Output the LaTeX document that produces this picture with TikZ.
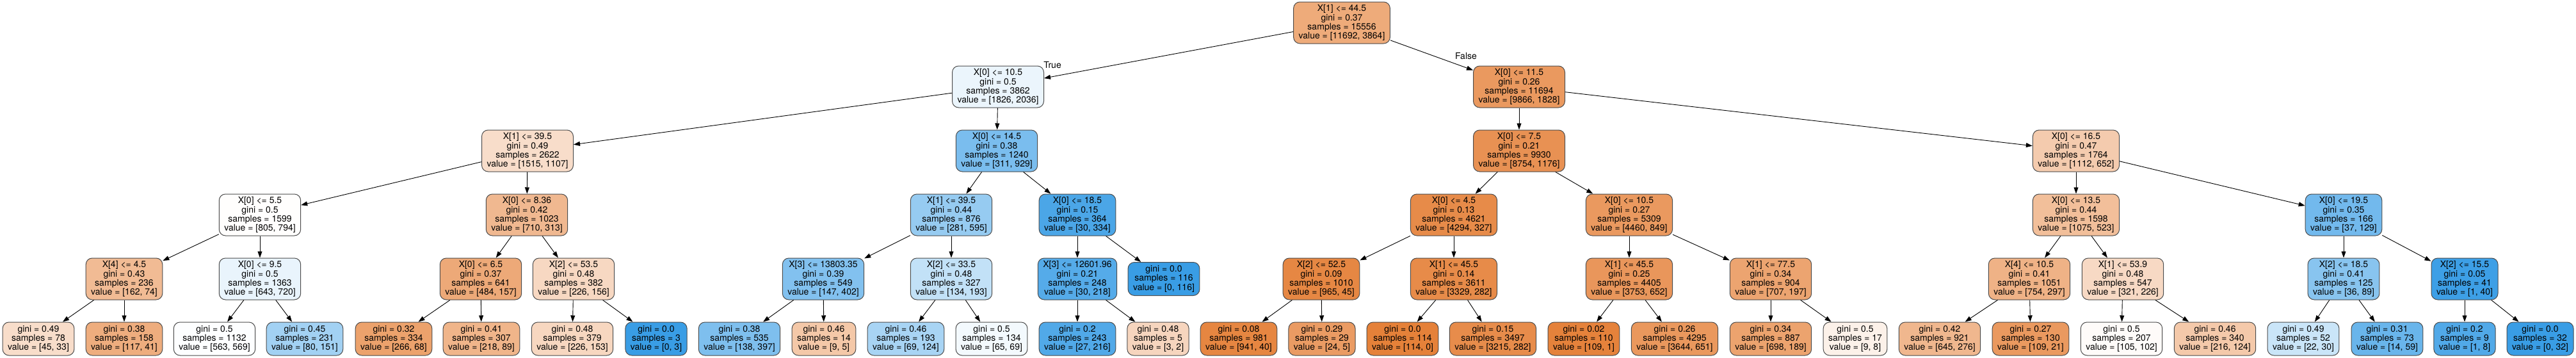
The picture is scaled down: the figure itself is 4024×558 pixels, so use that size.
\documentclass[tikz,border=0pt]{standalone}
\usepackage{fontspec}
\setmainfont{TeX Gyre Heros}
\usetikzlibrary{arrows.meta}
\definecolor{cls0}{RGB}{229,129,57}
\definecolor{cls1}{RGB}{57,157,229}
\newcommand{\snode}[4]{\node(#1)[split,fill=#3] at (#2) {#4}}
\newcommand{\lnode}[4]{\node(#1)[leaf,fill=#3] at (#2) {#4}}

\begin{document}
\begin{tikzpicture}[
        x=1pt,y=-1pt,
        every node/.style={font=\fontsize{14}{14.1}\selectfont},
        box/.style={rectangle,rounded corners=10pt,draw=black!70,line width=1pt,
                    align=center,inner xsep=8pt,inner ysep=0pt},
        split/.style={box,minimum height=65pt},
        leaf/.style={box,minimum height=52pt},
        edge/.style={-{Triangle[length=10pt,width=7pt]},line width=0.9pt}
      ]
      \useasboundingbox (0,0) rectangle (4024,558);
      % depth 0 and 1
      \snode{n}{2096,35.5}{cls0!67}{X[1] <= 44.5\\gini = 0.37\\samples = 15556\\value = [11692, 3864]};
      \snode{nl}{1559,135.5}{cls1!10}{X[0] <= 10.5\\gini = 0.5\\samples = 3862\\value = [1826, 2036]};
      \snode{nr}{2373,135.5}{cls0!81}{X[0] <= 11.5\\gini = 0.26\\samples = 11694\\value = [9866, 1828]};
      % depth 2
      \snode{nll}{824,235.5}{cls0!27}{X[1] <= 39.5\\gini = 0.49\\samples = 2622\\value = [1515, 1107]};
      \snode{nlr}{1557,235.5}{cls1!67}{X[0] <= 14.5\\gini = 0.38\\samples = 1240\\value = [311, 929]};
      \snode{nrl}{2373,235.5}{cls0!87}{X[0] <= 7.5\\gini = 0.21\\samples = 9930\\value = [8754, 1176]};
      \snode{nrr}{3243,235.5}{cls0!41}{X[0] <= 16.5\\gini = 0.47\\samples = 1764\\value = [1112, 652]};
      % depth 3
      \snode{nlll}{406,335.5}{cls0!1}{X[0] <= 5.5\\gini = 0.5\\samples = 1599\\value = [805, 794]};
      \snode{nllr}{823,335.5}{cls0!56}{X[0] <= 8.36\\gini = 0.42\\samples = 1023\\value = [710, 313]};
      \snode{nlrl}{1486,335.5}{cls1!53}{X[1] <= 39.5\\gini = 0.44\\samples = 876\\value = [281, 595]};
      \snode{nlrr}{1683,335.5}{cls1!91}{X[0] <= 18.5\\gini = 0.15\\samples = 364\\value = [30, 334]};
      \snode{nrll}{2271,335.5}{cls0!92}{X[0] <= 4.5\\gini = 0.13\\samples = 4621\\value = [4294, 327]};
      \snode{nrlr}{2545,335.5}{cls0!81}{X[0] <= 10.5\\gini = 0.27\\samples = 5309\\value = [4460, 849]};
      \snode{nrrl}{3243,335.5}{cls0!51}{X[0] <= 13.5\\gini = 0.44\\samples = 1598\\value = [1075, 523]};
      \snode{nrrr}{3661,335.5}{cls1!71}{X[0] <= 19.5\\gini = 0.35\\samples = 166\\value = [37, 129]};
      % depth 4
      \snode{nllll}{194,435.5}{cls0!54}{X[4] <= 4.5\\gini = 0.43\\samples = 236\\value = [162, 74]};
      \snode{nlllr}{406,435.5}{cls1!11}{X[0] <= 9.5\\gini = 0.5\\samples = 1363\\value = [643, 720]};
      \snode{nllrl}{751,435.5}{cls0!68}{X[0] <= 6.5\\gini = 0.37\\samples = 641\\value = [484, 157]};
      \snode{nllrr}{896,435.5}{cls0!31}{X[2] <= 53.5\\gini = 0.48\\samples = 382\\value = [226, 156]};
      \snode{nlrll}{1286,435.5}{cls1!63}{X[3] <= 13803.35\\gini = 0.39\\samples = 549\\value = [147, 402]};
      \snode{nlrlr}{1486,435.5}{cls1!31}{X[2] <= 33.5\\gini = 0.48\\samples = 327\\value = [134, 193]};
      \snode{nlrrl}{1683,435.5}{cls1!86}{X[3] <= 12601.96\\gini = 0.21\\samples = 248\\value = [30, 218]};
      \lnode{nlrrr}{1818,435.5}{cls1}{gini = 0.0\\samples = 116\\value = [0, 116]};
      \snode{nrlll}{2064,435.5}{cls0!95}{X[2] <= 52.5\\gini = 0.09\\samples = 1010\\value = [965, 45]};
      \snode{nrllr}{2271,435.5}{cls0!92}{X[1] <= 45.5\\gini = 0.14\\samples = 3611\\value = [3329, 282]};
      \snode{nrlrl}{2545,435.5}{cls0!83}{X[1] <= 45.5\\gini = 0.25\\samples = 4405\\value = [3753, 652]};
      \snode{nrlrr}{2766,435.5}{cls0!72}{X[1] <= 77.5\\gini = 0.34\\samples = 904\\value = [707, 197]};
      \snode{nrrll}{3170,435.5}{cls0!61}{X[4] <= 10.5\\gini = 0.41\\samples = 1051\\value = [754, 297]};
      \snode{nrrlr}{3316,435.5}{cls0!30}{X[1] <= 53.9\\gini = 0.48\\samples = 547\\value = [321, 226]};
      \snode{nrrrl}{3661,435.5}{cls1!60}{X[2] <= 18.5\\gini = 0.41\\samples = 125\\value = [36, 89]};
      \snode{nrrrr}{3850,435.5}{cls1!98}{X[2] <= 15.5\\gini = 0.05\\samples = 41\\value = [1, 40]};
      % depth 5, leaves
      \lnode{nlllll}{60,529}{cls0!27}{gini = 0.49\\samples = 78\\value = [45, 33]};
      \lnode{nllllr}{194,529}{cls0!65}{gini = 0.38\\samples = 158\\value = [117, 41]};
      \lnode{nlllrl}{335,529}{cls1!1}{gini = 0.5\\samples = 1132\\value = [563, 569]};
      \lnode{nlllrr}{476,529}{cls1!47}{gini = 0.45\\samples = 231\\value = [80, 151]};
      \lnode{nllrll}{615,529}{cls0!74}{gini = 0.32\\samples = 334\\value = [266, 68]};
      \lnode{nllrlr}{752,529}{cls0!59}{gini = 0.41\\samples = 307\\value = [218, 89]};
      \lnode{nllrrl}{894,529}{cls0!32}{gini = 0.48\\samples = 379\\value = [226, 153]};
      \lnode{nllrrr}{1025,529}{cls1}{gini = 0.0\\samples = 3\\value = [0, 3]};
      \lnode{nlrlll}{1155,529}{cls1!65}{gini = 0.38\\samples = 535\\value = [138, 397]};
      \lnode{nlrllr}{1287,529}{cls0!44}{gini = 0.46\\samples = 14\\value = [9, 5]};
      \lnode{nlrlrl}{1415,529}{cls1!44}{gini = 0.46\\samples = 193\\value = [69, 124]};
      \lnode{nlrlrr}{1549,529}{cls1!6}{gini = 0.5\\samples = 134\\value = [65, 69]};
      \lnode{nlrrll}{1683,529}{cls1!88}{gini = 0.2\\samples = 243\\value = [27, 216]};
      \lnode{nlrrlr}{1809,529}{cls0!33}{gini = 0.48\\samples = 5\\value = [3, 2]};
      \lnode{nrllll}{1935,529}{cls0!96}{gini = 0.08\\samples = 981\\value = [941, 40]};
      \lnode{nrlllr}{2065,529}{cls0!79}{gini = 0.29\\samples = 29\\value = [24, 5]};
      \lnode{nrllrl}{2191,529}{cls0}{gini = 0.0\\samples = 114\\value = [114, 0]};
      \lnode{nrllrr}{2332,529}{cls0!91}{gini = 0.15\\samples = 3497\\value = [3215, 282]};
      \lnode{nrlrll}{2474,529}{cls0!99}{gini = 0.02\\samples = 110\\value = [109, 1]};
      \lnode{nrlrlr}{2616,529}{cls0!82}{gini = 0.26\\samples = 4295\\value = [3644, 651]};
      \lnode{nrlrrl}{2766,529}{cls0!73}{gini = 0.34\\samples = 887\\value = [698, 189]};
      \lnode{nrlrrr}{2898,529}{cls0!11}{gini = 0.5\\samples = 17\\value = [9, 8]};
      \lnode{nrrlll}{3030,529}{cls0!57}{gini = 0.42\\samples = 921\\value = [645, 276]};
      \lnode{nrrllr}{3172,529}{cls0!81}{gini = 0.27\\samples = 130\\value = [109, 21]};
      \lnode{nrrlrl}{3314,529}{cls0!3}{gini = 0.5\\samples = 207\\value = [105, 102]};
      \lnode{nrrlrr}{3460,529}{cls0!43}{gini = 0.46\\samples = 340\\value = [216, 124]};
      \lnode{nrrrll}{3598,529}{cls1!27}{gini = 0.49\\samples = 52\\value = [22, 30]};
      \lnode{nrrrlr}{3729,529}{cls1!76}{gini = 0.31\\samples = 73\\value = [14, 59]};
      \lnode{nrrrrl}{3850,529}{cls1!88}{gini = 0.2\\samples = 9\\value = [1, 8]};
      \lnode{nrrrrr}{3968,529}{cls1}{gini = 0.0\\samples = 32\\value = [0, 32]};
      % edges, parent to child
      \foreach \a/\b in {n/nl,n/nr,nl/nll,nl/nlr,nr/nrl,nr/nrr,
          nll/nlll,nll/nllr,nlr/nlrl,nlr/nlrr,nrl/nrll,nrl/nrlr,nrr/nrrl,nrr/nrrr,
          nlll/nllll,nlll/nlllr,nllr/nllrl,nllr/nllrr,nlrl/nlrll,nlrl/nlrlr,nlrr/nlrrl,nlrr/nlrrr,
          nrll/nrlll,nrll/nrllr,nrlr/nrlrl,nrlr/nrlrr,nrrl/nrrll,nrrl/nrrlr,nrrr/nrrrl,nrrr/nrrrr,
          nllll/nlllll,nllll/nllllr,nlllr/nlllrl,nlllr/nlllrr,nllrl/nllrll,nllrl/nllrlr,
          nllrr/nllrrl,nllrr/nllrrr,nlrll/nlrlll,nlrll/nlrllr,nlrlr/nlrlrl,nlrlr/nlrlrr,
          nlrrl/nlrrll,nlrrl/nlrrlr,nrlll/nrllll,nrlll/nrlllr,nrllr/nrllrl,nrllr/nrllrr,
          nrlrl/nrlrll,nrlrl/nrlrlr,nrlrr/nrlrrl,nrlrr/nrlrrr,nrrll/nrrlll,nrrll/nrrllr,
          nrrlr/nrrlrl,nrrlr/nrrlrr,nrrrl/nrrrll,nrrrl/nrrrlr,nrrrr/nrrrrl,nrrrr/nrrrrr}
        \draw[edge] (\a) -- (\b);
      \node (ltrue) at (1644,101.5) {True};
      \node (lfalse) at (2290,87.5) {False};
    \end{tikzpicture}
\end{document}
